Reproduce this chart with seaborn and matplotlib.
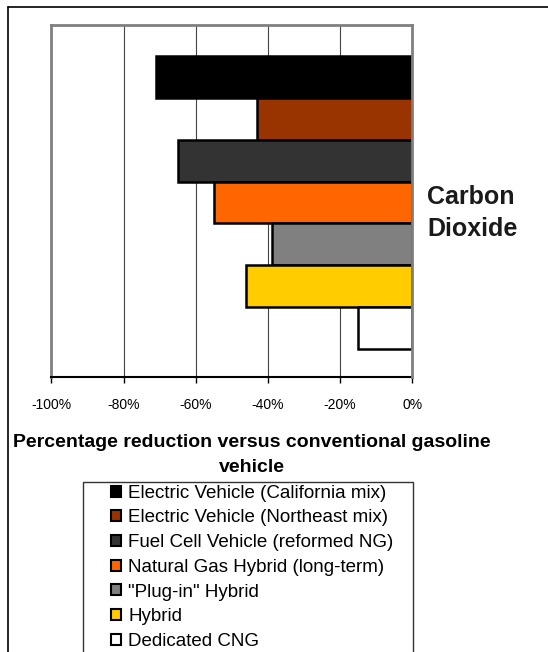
import matplotlib
matplotlib.use("Agg")
import matplotlib.pyplot as plt
import seaborn as sns
import pandas as pd
from matplotlib.lines import Line2D
from matplotlib.patches import Rectangle
from matplotlib.ticker import FuncFormatter

vehicles = [
    "Electric Vehicle (California mix)",
    "Electric Vehicle (Northeast mix)",
    "Fuel Cell Vehicle (reformed NG)",
    "Natural Gas Hybrid (long-term)",
    "\"Plug-in\" Hybrid",
    "Hybrid",
    "Dedicated CNG",
]
reduction = [-71, -43, -65, -55, -39, -46, -15]
colors = ["#000000", "#993300", "#333333", "#FF6600", "#808080", "#FFCC00", "#FFFFFF"]
x_ticks = [-100, -80, -60, -40, -20, 0]

sns.set_theme(style="white")
plt.rcParams["font.family"] = ["Liberation Sans", "DejaVu Sans"]
plt.rcParams["text.color"] = "black"

W, H = 548, 652
fig = plt.figure(figsize=(W / 100, H / 100), dpi=100)
left, right, top, bottom = 51.3, 412.3, 25, 377
ax = fig.add_axes([left / W, 1 - bottom / H, (right - left) / W, (bottom - top) / H])

df = pd.DataFrame({"vehicle": vehicles, "reduction": reduction})
sns.barplot(data=df, x="reduction", y="vehicle", hue="vehicle", palette=colors,
            order=vehicles, hue_order=vehicles, orient="h", width=1.0, saturation=1,
            edgecolor="black", linewidth=1.8, legend=False, ax=ax, zorder=3)

ax.set_xlim(-100, 0)
ax.set_ylim(7.17, -1.24)
ax.set_xticks(x_ticks)
ax.xaxis.set_major_formatter(FuncFormatter(lambda v, p: f"{int(round(v))}%"))
ax.set_yticks([])
ax.set_ylabel("")
ax.set_xlabel("")
ax.tick_params(axis="x", direction="out", length=4, width=1, color="black",
               labelsize=10, pad=11, bottom=True, labelcolor="black")
ax.grid(axis="x", color="#444444", linewidth=0.8, zorder=0)
ax.set_axisbelow(True)
for side in ["left", "top", "right"]:
    ax.spines[side].set_color("#808080")
    ax.spines[side].set_linewidth(2)
ax.spines["right"].set_zorder(5)
ax.spines["bottom"].set_color("black")
ax.spines["bottom"].set_linewidth(1.5)

fig.text(251.5 / W, 1 - 455 / H,
         "Percentage reduction versus conventional gasoline\nvehicle",
         ha="center", va="center", fontsize=14, fontweight="bold", linespacing=1.55,
         color="black")

fig.text(427 / W, 1 - 213 / H, "Carbon\nDioxide", ha="left", va="center",
         fontsize=18, fontweight="bold", color="#1a1a1a", linespacing=1.38)

# legend frame (extends past the bottom edge, as in the reference)
fig.add_artist(Rectangle((83 / W, -0.05), (413 - 83) / W, (1 - 482 / H) + 0.05,
                         transform=fig.transFigure, facecolor="white",
                         edgecolor="#333333", linewidth=1, zorder=1))

handles = [plt.Rectangle((0, 0), 1, 1, facecolor=c, edgecolor="black", linewidth=1.5)
           for c in colors]
leg = fig.legend(handles, vehicles, loc="upper left",
                 bbox_to_anchor=(108 / W, 1 - 482 / H), fontsize=13.5,
                 handlelength=0.52, handleheight=0.52, handletextpad=0.4,
                 labelspacing=0.41, borderpad=0.15, borderaxespad=0,
                 frameon=False)
leg.set_zorder(2)

# outer border
fig.add_artist(Line2D([8 / W, 8 / W], [0, 1 - 7 / H], color="black", linewidth=1.2,
                      transform=fig.transFigure))
fig.add_artist(Line2D([8 / W, 1], [1 - 7 / H, 1 - 7 / H], color="black", linewidth=1.2,
                      transform=fig.transFigure))

fig.savefig("out.png", dpi=100, facecolor="white")
